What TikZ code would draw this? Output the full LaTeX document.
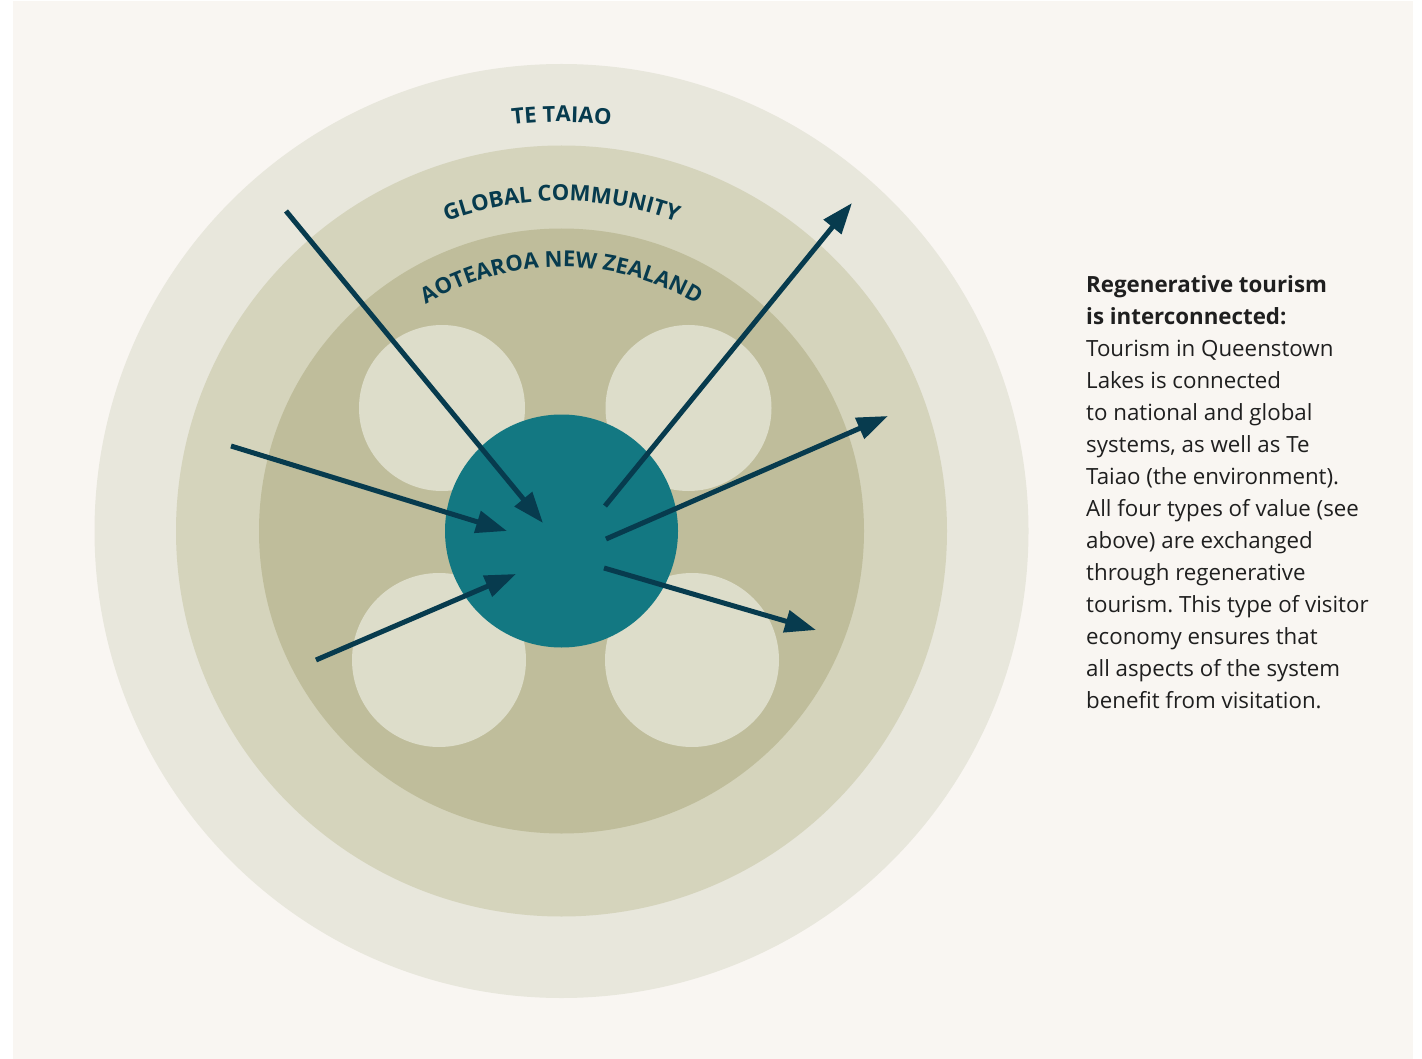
\documentclass[tikz,border=0pt]{standalone}
\usepackage{fontspec}
\setmainfont{Open Sans}
\usetikzlibrary{arrows.meta,decorations.text,calc}

\definecolor{paper}{HTML}{F9F6F2}
\definecolor{taiao}{HTML}{E8E7DC}
\definecolor{globe}{HTML}{D5D4BC}
\definecolor{aotearoa}{HTML}{BFBD9B}
\definecolor{petal}{HTML}{DDDDCA}
\definecolor{hub}{HTML}{137882}
\definecolor{ink}{HTML}{073B4E}

\tikzset{
	flow/.style={draw=ink, line width=5pt, -{Triangle[length=31pt,width=22pt]}},
	ringlabel/.style={decorate, decoration={text along path, text align=center,
		text={|\color{ink}\bfseries\fontsize{22}{22}\selectfont|#1}}}
}
\frenchspacing

\begin{document}
\begin{tikzpicture}[x=1pt,y=-1pt]
	\useasboundingbox (0,0) rectangle (1422,1059);
	\fill[white] (0,0) rectangle (1422,1059);
	\fill[paper] (13,1) rectangle (1413,1059);

	% rings
	\coordinate (C) at (561.5,531);
	\fill[taiao] (C) circle [radius=467pt];
	\fill[globe] (C) circle [radius=385.5pt];
	\fill[aotearoa] (C) circle [radius=302.5pt];

	% four values
	\fill[petal] (442,408) circle [radius=83pt];
	\fill[petal] (688.5,408) circle [radius=83pt];
	\fill[petal] (439,660) circle [radius=87pt];
	\fill[petal] (692,660) circle [radius=87pt];

	% Queenstown Lakes
	\fill[hub] (C) circle [radius=116.5pt];

	\path[ringlabel={TE TAIAO}] ($(C)+(120:409pt)$) arc [start angle=120, end angle=60, radius=409pt];
	\path[ringlabel={GLOBAL COMMUNITY}] ($(C)+(150:330pt)$) arc [start angle=150, end angle=30, radius=330pt];
	\path[ringlabel={AOTEAROA NEW ZEALAND}] ($(C)+(150:264pt)$) arc [start angle=150, end angle=30, radius=264pt];

	% flows in
	\coordinate (in1) at (286,211);  \coordinate (hub1) at (543,523);
	\coordinate (in2) at (231,446);  \coordinate (hub2) at (507,531);
	\coordinate (in3) at (316,660);  \coordinate (hub3) at (516,574);
	\draw[flow] (in1) -- (hub1);
	\draw[flow] (in2) -- (hub2);
	\draw[flow] (in3) -- (hub3);

	% flows out
	\coordinate (hub4) at (605,506); \coordinate (out4) at (852,203);
	\coordinate (hub5) at (606,539); \coordinate (out5) at (888,416);
	\coordinate (hub6) at (604,568); \coordinate (out6) at (816,630);
	\draw[flow] (hub4) -- (out4);
	\draw[flow] (hub5) -- (out5);
	\draw[flow] (hub6) -- (out6);

	% last baseline at 292 + 13*32
	\node[anchor=base west, align=left, inner sep=0pt, text=black!88,
		font=\fontsize{22.3}{32}\selectfont] (blurb) at (1086,708)
		{\textbf{Regenerative tourism}\\
		\textbf{is interconnected:}\\
		Tourism in Queenstown\\
		Lakes is connected\\
		to national and global\\
		systems, as well as Te\\
		Taiao (the environment).\\
		All four types of value (see\\
		above) are exchanged\\
		through regenerative\\
		tourism. This type of visitor\\
		economy ensures that\\
		all aspects of the system\\
		benefit from visitation.};
\end{tikzpicture}
\end{document}
